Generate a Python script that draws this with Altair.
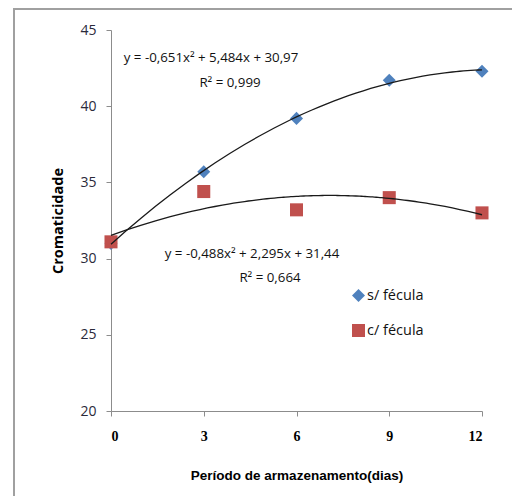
import altair as alt
import pandas as pd

days = [0, 3, 6, 9, 12]
s_fecula = [31.0, 35.7, 39.2, 41.7, 42.3]
c_fecula = [31.1, 34.4, 33.2, 34.0, 33.0]
series_names = ["s/ fécula", "c/ fécula"]
series_colors = ["#4F81BD", "#C0504D"]
series_shapes = ["diamond", "square"]
y_ticks = [20, 25, 30, 35, 40, 45]
x_ticks = [0, 3, 6, 9, 12]
eq_texts = ["y = -0,651x² + 5,484x + 30,97", "R² = 0,999",
            "y = -0,488x² + 2,295x + 31,44", "R² = 0,664"]

rows = []
for d, v in zip(days, s_fecula):
    rows.append({"dia": d, "valor": v, "serie": series_names[0], "ord": 0})
for d, v in zip(days, c_fecula):
    rows.append({"dia": d, "valor": v, "serie": series_names[1], "ord": 1})
df = pd.DataFrame(rows)

W, H = 371, 381
PL, PT, PR, PB = 103, 22, 30, 85

xs = alt.Scale(domain=[0, 12], nice=False)
ys = alt.Scale(domain=[20, 45], nice=False)

x_axis = alt.Axis(values=x_ticks, grid=False, tickSize=5, domainColor="#8C8C8C",
                  tickColor="#8C8C8C", labelFont="Liberation Serif", labelFontWeight="bold",
                  labelFontSize=14, labelColor="#000000", labelPadding=13,
                  title="Período de armazenamento(dias)", titleFont="Liberation Sans",
                  titleFontSize=13.5, titleFontWeight="bold", titleColor="#000000",
                  titlePadding=25)
y_axis = alt.Axis(values=y_ticks, grid=False, tickSize=5, domainColor="#8C8C8C",
                  tickColor="#8C8C8C", labelFont="Open Sans", labelFontSize=14,
                  labelColor="#2A2A3A", labelPadding=10,
                  title="Cromaticidade", titleFont="Open Sans",
                  titleFontSize=14.5, titleFontWeight="bold", titleColor="#000000",
                  titlePadding=14)

points = alt.Chart(df).mark_point(filled=True, opacity=1, size=170).encode(
    x=alt.X("dia:Q", scale=xs, axis=x_axis),
    y=alt.Y("valor:Q", scale=ys, axis=y_axis),
    color=alt.Color("serie:N", scale=alt.Scale(domain=series_names, range=series_colors),
                    legend=alt.Legend(title=None, orient="none", legendX=240, legendY=258,
                                      labelFont="Open Sans", labelFontSize=14.5,
                                      labelColor="#111111", rowPadding=19,
                                      symbolSize=170, labelOffset=1)),
    shape=alt.Shape("serie:N", scale=alt.Scale(domain=series_names, range=series_shapes)),
    order=alt.Order("ord:Q"),
)

lines = alt.Chart(df).transform_regression(
    "dia", "valor", method="poly", order=2, groupby=["serie"], extent=[0, 12]
).mark_line(color="#1A1A1A", strokeWidth=1.3).encode(
    x=alt.X("dia:Q", scale=xs),
    y=alt.Y("valor:Q", scale=ys),
    detail="serie:N",
)

def eq(i):
    return alt.Chart(pd.DataFrame({"t": [eq_texts[i]]})).mark_text(
        font="Open Sans", fontSize=13.3, color="#111111", align="center", baseline="middle"
    ).encode(text="t:N", x=alt.value([100, 119, 141, 159][i]), y=alt.value([28, 53, 224, 248][i]))

frame_left = alt.Chart(pd.DataFrame({"a": [0]})).mark_rule(color="#A0A0A0", strokeWidth=2).encode(
    x=alt.value(-97), y=alt.value(-22), y2=alt.value(H + PB))
frame_top = alt.Chart(pd.DataFrame({"a": [0]})).mark_rule(color="#A0A0A0", strokeWidth=2).encode(
    x=alt.value(-97), x2=alt.value(W + PR), y=alt.value(-21))

chart = alt.layer(frame_left, frame_top, points, lines, eq(0), eq(1), eq(2), eq(3)).properties(
    width=W, height=H,
    padding={"left": PL, "top": PT, "right": PR, "bottom": PB},
    autosize=alt.AutoSizeParams(type="none"),
).configure_view(stroke=None)

chart.save("out.html", embed_options={"renderer": "svg", "actions": False})
